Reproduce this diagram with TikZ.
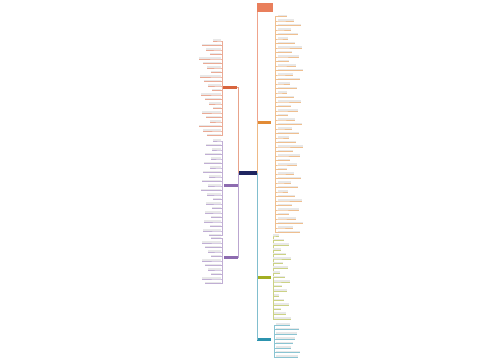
\documentclass[tikz,border=0pt]{standalone}
\usetikzlibrary{positioning}

\definecolor{rootblue}{HTML}{1F2560}
\definecolor{notered}{HTML}{E5683F}
\definecolor{brorange}{HTML}{E28B35}
\definecolor{brred}{HTML}{D8653E}
\definecolor{brpurple}{HTML}{8D6BB0}
\definecolor{brolive}{HTML}{A2AE22}
\definecolor{brteal}{HTML}{2C93AE}

\tikzset{every picture/.style={line width=0.35pt}}
\tikzset{
  rootbox/.style={rectangle, fill=rootblue, inner sep=0, minimum width=19pt, minimum height=4.5pt},
  notebox/.style={rectangle, fill=notered!85, inner sep=0, minimum width=16pt, minimum height=9pt},
  branchbox/.style={rectangle, fill=#1, inner sep=0, minimum width=14pt, minimum height=3pt},
  leafbox/.style={rectangle, fill=gray!18, inner sep=0, minimum height=1.6pt},
}

\begin{document}
\begin{tikzpicture}[x=1pt,y=1pt,yscale=-1]
\useasboundingbox (0,0) rectangle (500,360);

% root and main branches
\node [rootbox] (root) at (247.5,173) {};
\node [notebox] (note) at (265,7.5) {};
\node [branchbox=brorange] (bo) at (264,122) {};
\node [branchbox=brolive] (bg) at (264,277) {};
\node [branchbox=brteal] (bt) at (264,339) {};
\node [branchbox=brred] (lr) at (230,87) {};
\node [branchbox=brpurple] (lpa) at (230.5,185) {};
\node [branchbox=brpurple] (lpb) at (230.5,257.5) {};

% root connectors
\draw [notered!60] (root.east) -- (root.east |- note.south);
\draw [brorange!60] (root.east) |- (bo.west);
\draw [brolive!60] (root.east) |- (bg.west);
\draw [brteal!60] (root.east) |- (bt.west);
\draw [brred!60] (root.west) |- (lr.east);
\draw [brpurple!60] (root.west) |- (lpa.east);
\draw [brpurple!60] (root.west) |- (lpb.east);

% spines
\coordinate (bo-sp) at ([xshift=4pt]bo.east);
\coordinate (bg-sp) at ([xshift=1.5pt]bg.east);
\coordinate (bt-sp) at ([xshift=3pt]bt.east);
\coordinate (lr-sp) at ([xshift=-1pt]lr.west);
\coordinate (lpa-sp) at ([xshift=-1pt]lpa.west);
\coordinate (lpb-sp) at ([xshift=-1pt]lpb.west);

% right orange leaves
\foreach \i in {0,...,48}{
  \pgfmathsetmacro{\w}{9+mod(\i*7,17)}
  \node [leafbox, minimum width=\w pt, anchor=south west] (ob\i) at (278,16.5+\i*4.5) {};
  \draw [brorange!55] (bo-sp) |- (ob\i.south west) -- (ob\i.south east);
}
% right olive leaves
\foreach \i in {0,...,18}{
  \pgfmathsetmacro{\w}{6+mod(\i*5,13)}
  \node [leafbox, minimum width=\w pt, anchor=south west] (gb\i) at (273,236+\i*4.6) {};
  \draw [brolive!55] (bg-sp) |- (gb\i.south west) -- (gb\i.south east);
}
% right teal leaves
\foreach \i in {0,...,7}{
  \pgfmathsetmacro{\w}{14+mod(\i*9,11)}
  \node [leafbox, minimum width=\w pt, anchor=south west] (tb\i) at (276,325+\i*4.6) {};
  \draw [brteal!55] (bt-sp) |- (tb\i.south west) -- (tb\i.south east);
}
% left red leaves
\foreach \i in {0,...,21}{
  \pgfmathsetmacro{\w}{8+mod(\i*11,15)}
  \node [leafbox, minimum width=\w pt, anchor=south east] (rb\i) at (221,41+\i*4.5) {};
  \draw [brred!55] (lr-sp) |- (rb\i.south east) -- (rb\i.south west);
}
% left purple leaves, middle
\foreach \i in {0,...,21}{
  \pgfmathsetmacro{\w}{8+mod(\i*7,13)}
  \node [leafbox, minimum width=\w pt, anchor=south east] (pa\i) at (221,141+\i*4.5) {};
  \draw [brpurple!55] (lpa-sp) |- (pa\i.south east) -- (pa\i.south west);
}
% left purple leaves, bottom
\foreach \i in {0,...,10}{
  \pgfmathsetmacro{\w}{10+mod(\i*9,12)}
  \node [leafbox, minimum width=\w pt, anchor=south east] (pb\i) at (221,238.5+\i*4.5) {};
  \draw [brpurple!55] (lpb-sp) |- (pb\i.south east) -- (pb\i.south west);
}

\end{tikzpicture}
\end{document}
